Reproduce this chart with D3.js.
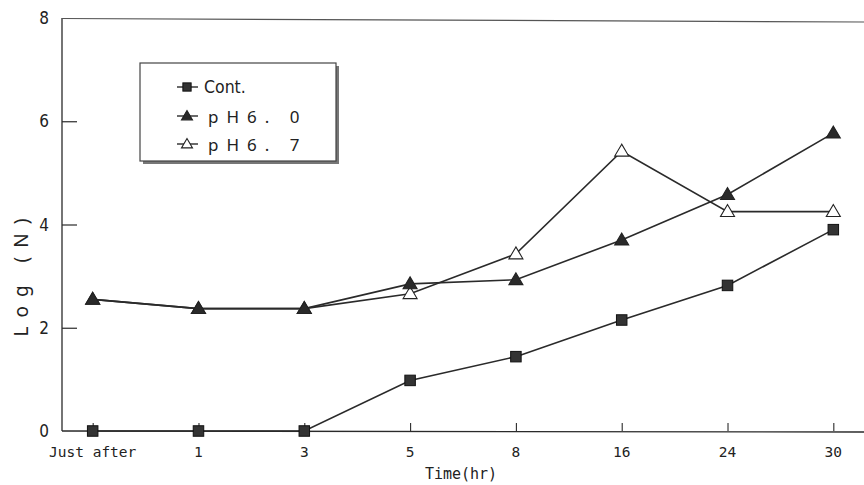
<!DOCTYPE html>
<meta charset="utf-8">
<style>
  body { margin: 0; background: #fff; }
  text { font-family: "DejaVu Sans Condensed", "Liberation Sans Narrow", sans-serif; fill: #222; }
  .mono { font-family: "DejaVu Sans Mono", "Liberation Mono", monospace; }
  .wide { font-family: "Noto Sans", "DejaVu Sans", sans-serif; }
</style>
<script src="https://d3js.org/d3.v7.min.js"></script>
<div id="chart"></div>
<script>
// categories on the time axis
var times = ["Just after", "1", "3", "5", "8", "16", "24", "30"];
var yTicks = [0, 2, 4, 6, 8];

// log(N) values
var cont = [0, 0, 0, 0.98, 1.44, 2.15, 2.82, 3.9];
var ph60 = [2.55, 2.37, 2.37, 2.85, 2.93, 3.7, 4.58, 5.77];
var ph67 = [2.55, 2.37, 2.37, 2.66, 3.43, 5.42, 4.25, 4.25];

var seriesNames = ["Cont.", "pH6. 0", "pH6. 7"];
var seriesShapes = ["square", "triangle", "triangleOpen"];

var W = 864, H = 485;
var svg = d3.select("#chart").append("svg")
    .attr("width", W).attr("height", H);

var x = d3.scalePoint().domain(times).range([62, 864]).padding(0.29);
var y = d3.scaleLinear().domain([0, 8]).range([431, 18]);

var ink = "#2a2a2a";

// frame: left, bottom and top lines
svg.append("line").attr("x1", 62).attr("x2", 62).attr("y1", y(8)).attr("y2", y(0))
    .attr("stroke", ink).attr("stroke-width", 1.3);
svg.append("line").attr("x1", 62).attr("x2", W).attr("y1", y(0)).attr("y2", y(0) + 1)
    .attr("stroke", ink).attr("stroke-width", 1.3);
svg.append("line").attr("x1", 62).attr("x2", W).attr("y1", y(8) + 0.5).attr("y2", y(8) + 4)
    .attr("stroke", "#555").attr("stroke-width", 1.2);

// y axis: inward ticks
var yAxis = svg.append("g").attr("transform", "translate(62,0)")
    .call(d3.axisRight(y).tickValues(yTicks).tickSize(15).tickFormat(""));
yAxis.select(".domain").remove();
yAxis.selectAll("line").attr("stroke", ink).attr("stroke-width", 1.2);
yAxis.selectAll(".tick").filter(function (d) { return d === 0 || d === 8; }).select("line").remove();

svg.selectAll(".ylab").data(yTicks).enter().append("text")
    .attr("x", 44).attr("y", function (d) { return y(d) + 6; })
    .attr("text-anchor", "middle").style("font-size", "17px")
    .text(function (d) { return d; });

// x axis: inward ticks
var xAxis = svg.append("g").attr("transform", "translate(0," + y(0) + ")")
    .call(d3.axisTop(x).tickSize(8).tickFormat(""));
xAxis.select(".domain").remove();
xAxis.selectAll("line").attr("stroke", ink).attr("stroke-width", 1.1);

svg.selectAll(".xlab").data(times).enter().append("text").attr("class", "mono")
    .attr("x", function (d) { return x(d); }).attr("y", 457)
    .attr("text-anchor", "middle").style("font-size", "14.5px")
    .text(function (d) { return d; });

svg.append("text").attr("class", "mono").attr("x", 461).attr("y", 479).attr("text-anchor", "middle")
    .style("font-size", "15px").text("Time(hr)");

svg.append("text").attr("class", "wide")
    .attr("transform", "translate(28," + 273 + ") rotate(-90)")
    .attr("text-anchor", "middle").style("font-size", "19px")
    .style("letter-spacing", "9px").text("Log (N)");

// lines and markers
var line = d3.line().x(function (d, i) { return x(times[i]); }).y(function (d) { return y(d); });
var allSeries = [ph67, ph60, cont];
var shapesOrder = ["triangleOpen", "triangle", "square"];

function drawMarker(g, shape, cx, cy, s) {
    if (shape === "square") {
        g.append("rect").attr("x", cx - s * 0.75).attr("y", cy - s * 0.75).attr("width", s * 1.5).attr("height", s * 1.5)
            .attr("fill", "#333").attr("stroke", "#111").attr("stroke-width", 1);
    } else {
        var pts = [[cx, cy - s], [cx - s, cy + s * 0.7], [cx + s, cy + s * 0.7]];
        g.append("polygon").attr("points", pts.join(" "))
            .attr("fill", shape === "triangle" ? "#2a2a2a" : "#fff")
            .attr("stroke", "#222").attr("stroke-width", 1.1);
    }
}

allSeries.forEach(function (vals) {
    svg.append("path").datum(vals).attr("d", line)
        .attr("fill", "none").attr("stroke", ink).attr("stroke-width", 1.6);
});
allSeries.forEach(function (vals, k) {
    var g = svg.append("g");
    vals.forEach(function (v, i) { drawMarker(g, shapesOrder[k], x(times[i]), y(v), 7); });
});

// legend
var lg = svg.append("g");
lg.append("rect").attr("x", 143).attr("y", 66).attr("width", 196).attr("height", 98).attr("fill", "#777");
lg.append("rect").attr("x", 140).attr("y", 63).attr("width", 196).attr("height", 98)
    .attr("fill", "#fff").attr("stroke", "#444").attr("stroke-width", 1.2);
var rowsY = [87, 116, 144];
seriesNames.forEach(function (name, i) {
    var cy = rowsY[i];
    lg.append("line").attr("x1", 177).attr("x2", 198).attr("y1", cy).attr("y2", cy)
        .attr("stroke", ink).attr("stroke-width", 1.4);
    drawMarker(lg, seriesShapes[i], 187, cy, 5.5);
    if (i === 0) {
        lg.append("text").attr("x", 204).attr("y", cy + 6).style("font-size", "17.5px").text(name);
    } else {
        lg.append("text").attr("class", "wide").attr("x", 208).attr("y", cy + 7)
            .style("font-size", "17px").style("letter-spacing", "8px").text(name);
    }
});
</script>
